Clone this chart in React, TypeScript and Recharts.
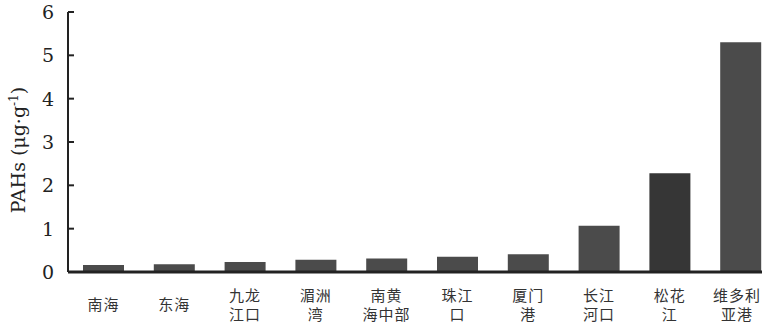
import { BarChart, Bar, XAxis, YAxis, Cell } from 'recharts';

// 地点（换行用 \n）与 PAHs 含量
const sites = ['南海', '东海', '九龙\n江口', '湄洲\n湾', '南黄\n海中部', '珠江\n口', '厦门\n港', '长江\n河口', '松花\n江', '维多利\n亚港'];
const pahs = [0.16, 0.18, 0.23, 0.28, 0.31, 0.35, 0.41, 1.07, 2.28, 5.3];
const yTicks = [0, 1, 2, 3, 4, 5, 6];

const BAR_COLOR = '#4b4b4b';
const DARK_BAR = '#363636';
const AXIS_COLOR = '#222';
const AXIS_X = 68;
const SERIF = "'DejaVu Serif', 'Liberation Serif', serif";

const data = sites.map((site, i) => ({ site, value: pahs[i] }));

function YTick(props: any) {
  const { y, payload } = props;
  return (
    <g>
      <line x1={AXIS_X} x2={AXIS_X + 6} y1={y} y2={y} stroke={AXIS_COLOR} strokeWidth={2} />
      <text x={AXIS_X - 14} y={y} dy={7} textAnchor="end" fill="#222" fontSize={19} fontFamily={SERIF}>
        {payload.value}
      </text>
    </g>
  );
}

function XTick(props: any) {
  const { x, payload } = props;
  const lines = String(payload.value).split('\n');
  const midY = 305;
  const lh = 19;
  const startY = midY - ((lines.length - 1) * lh) / 2;
  const maxLen = Math.max(...lines.map((l) => l.length));
  const half = (maxLen * 16) / 2;
  const cx = Math.min(x, 761 - half);
  return (
    <text textAnchor="middle" fill="#333" fontSize={15} fontFamily="'Noto Sans CJK SC', sans-serif" letterSpacing={1}>
      {lines.map((ln, i) => (
        <tspan key={i} x={cx} y={startY + i * lh} dy={5}>
          {ln}
        </tspan>
      ))}
    </text>
  );
}

function YLabel() {
  const cx = 19;
  const cy = 150;
  return (
    <text
      transform={`rotate(-90, ${cx}, ${cy})`}
      x={cx}
      y={cy}
      dy={6}
      textAnchor="middle"
      fill="#222"
      fontSize={19}
      fontFamily={SERIF}
    >
      PAHs (μg·g
      <tspan dy={-7} fontSize={12}>-1</tspan>
      <tspan dy={7}>)</tspan>
    </text>
  );
}

export default function App() {
  return (
    <div style={{ position: 'absolute', left: 0, top: 0, width: 762, height: 324, overflow: 'hidden', background: '#fff' }}>
      <BarChart width={776} height={324} data={data} margin={{ top: 12, right: 0, bottom: 0, left: 0 }}>
        <XAxis
          dataKey="site"
          height={52}
          interval={0}
          tickLine={false}
          axisLine={{ stroke: AXIS_COLOR, strokeWidth: 3 }}
          tick={<XTick />}
        />
        <YAxis
          width={68}
          domain={[0, 6]}
          ticks={yTicks}
          tickLine={false}
          axisLine={{ stroke: AXIS_COLOR, strokeWidth: 2 }}
          tick={<YTick />}
          label={{ content: <YLabel /> }}
        />
        <Bar dataKey="value" barSize={41} isAnimationActive={false}>
          {data.map((d, i) => (
            <Cell key={d.site} fill={i === 8 ? DARK_BAR : BAR_COLOR} />
          ))}
        </Bar>
      </BarChart>
    </div>
  );
}
